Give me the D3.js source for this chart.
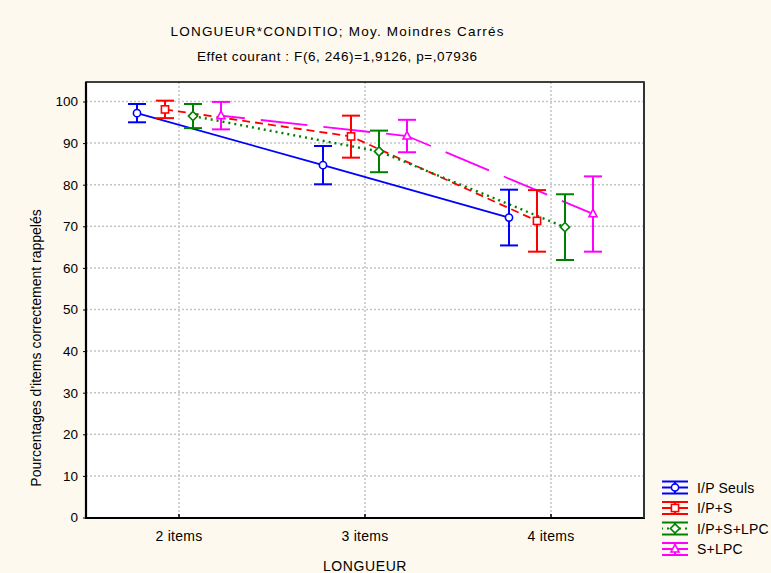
<!DOCTYPE html>
<html>
<head>
<meta charset="utf-8">
<script src="https://cdn.jsdelivr.net/npm/d3@7"></script>
<style>
  html, body { margin: 0; padding: 0; background: #fdf9ee; }
  svg { display: block; font-family: "Liberation Sans", Arial, sans-serif; }
</style>
</head>
<body>
<svg id="chart" width="771" height="573"></svg>
<script>
// ---------- data ----------
const categories = ["2 items", "3 items", "4 items"];
const seriesNames = ["I/P Seuls", "I/P+S", "I/P+S+LPC", "S+LPC"];
const meanIPSeuls   = [97.2, 84.7, 72.1];
const meanIPS       = [98.1, 91.6, 71.3];
const meanIPSLPC    = [96.5, 88.0, 69.8];
const meanSLPC      = [96.6, 91.7, 73.0];
const lowIPSeuls    = [95.0, 80.1, 65.4];
const highIPSeuls   = [99.4, 89.3, 78.8];
const lowIPS        = [96.0, 86.5, 63.9];
const highIPS       = [100.2, 96.6, 78.7];
const lowIPSLPC     = [93.6, 83.0, 61.9];
const highIPSLPC    = [99.4, 93.0, 77.7];
const lowSLPC       = [93.3, 87.8, 63.9];
const highSLPC      = [99.9, 95.6, 82.0];
const yTicks = [0, 10, 20, 30, 40, 50, 60, 70, 80, 90, 100];
const titleLine1 = "LONGUEUR*CONDITIO; Moy. Moindres Carrés";
const titleLine2 = "Effet courant : F(6, 246)=1,9126, p=,07936";
const xTitle = "LONGUEUR";
const yTitle = "Pourcentages d'items correctement rappelés";

// ---------- styles ----------
const colors = ["#0000ff", "#ff0000", "#008000", "#ff00ff"];
const dashes = [null, "8,5", "2,4", "47,16"];
const dashOffsets = [0, 0, 0, 23];
const markerTypes = ["circle", "square", "diamond", "triangle"];

const series = seriesNames.map((name, i) => ({
  name,
  mean: [meanIPSeuls, meanIPS, meanIPSLPC, meanSLPC][i],
  low: [lowIPSeuls, lowIPS, lowIPSLPC, lowSLPC][i],
  high: [highIPSeuls, highIPS, highIPSLPC, highSLPC][i],
  color: colors[i], dash: dashes[i], dashOffset: dashOffsets[i], marker: markerTypes[i]
}));

// ---------- layout ----------
const svg = d3.select("#chart");
const plot = { left: 86, right: 644, top: 82, bottom: 518 };

svg.append("rect").attr("x", 0).attr("y", 0).attr("width", 771).attr("height", 573).attr("fill", "#fdf9ee");
svg.append("rect").attr("x", plot.left).attr("y", plot.top)
  .attr("width", plot.right - plot.left).attr("height", plot.bottom - plot.top).attr("fill", "#ffffff");

const x = d3.scaleBand().domain(categories).range([plot.left, plot.right]);
const xOff = d3.scalePoint().domain(seriesNames).range([-42, 42]);
const y = d3.scaleLinear().domain([0, 100]).range([517.5, 101.5]);
const cx = c => x(c) + x.bandwidth() / 2;

// gridlines
const grid = svg.append("g").attr("stroke", "#c4c4c4").attr("stroke-width", 1.5).attr("stroke-dasharray", "2,2");
yTicks.filter(t => t > 0).forEach(t => {
  grid.append("line").attr("x1", plot.left).attr("x2", plot.right).attr("y1", y(t)).attr("y2", y(t));
});
categories.forEach(c => {
  grid.append("line").attr("x1", cx(c)).attr("x2", cx(c)).attr("y1", plot.top).attr("y2", plot.bottom);
});

// axes
const yAxis = d3.axisLeft(y).tickValues(yTicks).tickSize(3).tickPadding(5);
const gy = svg.append("g").attr("transform", `translate(${plot.left},0)`).call(yAxis);
gy.select(".domain").remove();
gy.selectAll("text").attr("font-size", 13.5).attr("fill", "#000").attr("font-family", "Liberation Sans, Arial, sans-serif");
gy.selectAll("line").attr("stroke", "#000");

const xAxis = d3.axisBottom(x).tickSize(-4).tickPadding(13);
const gx = svg.append("g").attr("transform", `translate(0,${plot.bottom})`).call(xAxis);
gx.select(".domain").remove();
gx.selectAll("text").attr("font-size", 14).attr("letter-spacing", 0.3).attr("fill", "#000").attr("font-family", "Liberation Sans, Arial, sans-serif");
gx.selectAll("line").attr("stroke", "#000").attr("stroke-width", 1.5);

// frame
svg.append("rect").attr("x", plot.left).attr("y", plot.top)
  .attr("width", plot.right - plot.left).attr("height", plot.bottom - plot.top)
  .attr("fill", "none").attr("stroke", "#000").attr("stroke-width", 1.5);
svg.append("line").attr("x1", plot.left).attr("x2", plot.left).attr("y1", plot.top).attr("y2", plot.bottom + 1)
  .attr("stroke", "#000").attr("stroke-width", 2.2);
svg.append("line").attr("x1", plot.left - 1).attr("x2", plot.right + 1).attr("y1", plot.bottom).attr("y2", plot.bottom)
  .attr("stroke", "#000").attr("stroke-width", 2.2);
svg.append("line").attr("x1", plot.right).attr("x2", plot.right).attr("y1", plot.top).attr("y2", plot.bottom)
  .attr("stroke", "#333").attr("stroke-width", 2);

// marker drawing
function drawMarker(g, type, px, py, color) {
  const sw = 1.6;
  if (type === "circle") {
    g.append("circle").attr("cx", px).attr("cy", py).attr("r", 3.6)
      .attr("fill", "#fff").attr("stroke", color).attr("stroke-width", sw);
  } else if (type === "square") {
    g.append("rect").attr("x", px - 3.6).attr("y", py - 3.6).attr("width", 7.2).attr("height", 7.2)
      .attr("fill", "#fff").attr("stroke", color).attr("stroke-width", sw);
  } else if (type === "diamond") {
    g.append("path").attr("d", `M${px},${py - 4.6}L${px + 4.6},${py}L${px},${py + 4.6}L${px - 4.6},${py}Z`)
      .attr("fill", "#fff").attr("stroke", color).attr("stroke-width", sw);
  } else {
    g.append("path").attr("d", `M${px},${py - 4.6}L${px + 4},${py + 3}L${px - 4},${py + 3}Z`)
      .attr("fill", "#fff").attr("stroke", color).attr("stroke-width", sw);
  }
}

// series lines
const line = d3.line().x(d => d[0]).y(d => d[1]);
const gl = svg.append("g");
series.forEach(s => {
  const pts = categories.map((c, j) => [cx(c) + xOff(s.name), y(s.mean[j])]);
  const p = gl.append("path").attr("d", line(pts)).attr("fill", "none")
    .attr("stroke", s.color).attr("stroke-width", s.marker === "diamond" ? 2.4 : 1.8);
  if (s.dash) p.attr("stroke-dasharray", s.dash).attr("stroke-dashoffset", s.dashOffset);
});

// error bars + markers
const ge = svg.append("g");
series.forEach(s => {
  categories.forEach((c, j) => {
    const px = cx(c) + xOff(s.name);
    const g = ge.append("g").attr("stroke", s.color).attr("stroke-width", 2);
    g.append("line").attr("x1", px).attr("x2", px).attr("y1", y(s.high[j])).attr("y2", y(s.low[j]));
    g.append("line").attr("x1", px - 9).attr("x2", px + 9).attr("y1", y(s.high[j])).attr("y2", y(s.high[j]));
    g.append("line").attr("x1", px - 9).attr("x2", px + 9).attr("y1", y(s.low[j])).attr("y2", y(s.low[j]));
  });
});
series.forEach(s => {
  categories.forEach((c, j) => {
    drawMarker(ge, s.marker, cx(c) + xOff(s.name), y(s.mean[j]), s.color);
  });
});

// titles
svg.append("text").attr("x", 337).attr("y", 36).attr("text-anchor", "middle")
  .attr("font-size", 13.5).attr("textLength", 333).attr("lengthAdjust", "spacing").text(titleLine1);
svg.append("text").attr("x", 337).attr("y", 61).attr("text-anchor", "middle")
  .attr("font-size", 13.5).attr("textLength", 280).attr("lengthAdjust", "spacing").text(titleLine2);
svg.append("text").attr("x", 365).attr("y", 571).attr("text-anchor", "middle")
  .attr("font-size", 14).attr("letter-spacing", 0.6).text(xTitle);
svg.append("text").attr("transform", "translate(41,348) rotate(-90)").attr("text-anchor", "middle")
  .attr("font-size", 14).text(yTitle);

// legend
const lg = svg.append("g");
series.forEach((s, i) => {
  const cy = 487.5 + i * 20.5;
  const x0 = 662, x1 = 688, xm = (x0 + x1) / 2;
  const g = lg.append("g").attr("stroke", s.color).attr("stroke-width", 2);
  g.append("line").attr("x1", x0).attr("x2", x1).attr("y1", cy - 6).attr("y2", cy - 6);
  g.append("line").attr("x1", x0).attr("x2", x1).attr("y1", cy + 6).attr("y2", cy + 6);
  g.append("line").attr("x1", xm).attr("x2", xm).attr("y1", cy - 6).attr("y2", cy + 6);
  const ml = g.append("line").attr("x1", x0).attr("x2", x1).attr("y1", cy).attr("y2", cy);
  if (s.dash && s.marker === "diamond") ml.attr("stroke-dasharray", "2,4").attr("stroke-dashoffset", 1);
  drawMarker(lg, s.marker, xm, cy, s.color);
  lg.append("text").attr("x", 697).attr("y", cy + 5).attr("font-size", 14).attr("letter-spacing", 0.2)
    .attr("fill", "#000").text(s.name);
});
</script>
</body>
</html>
